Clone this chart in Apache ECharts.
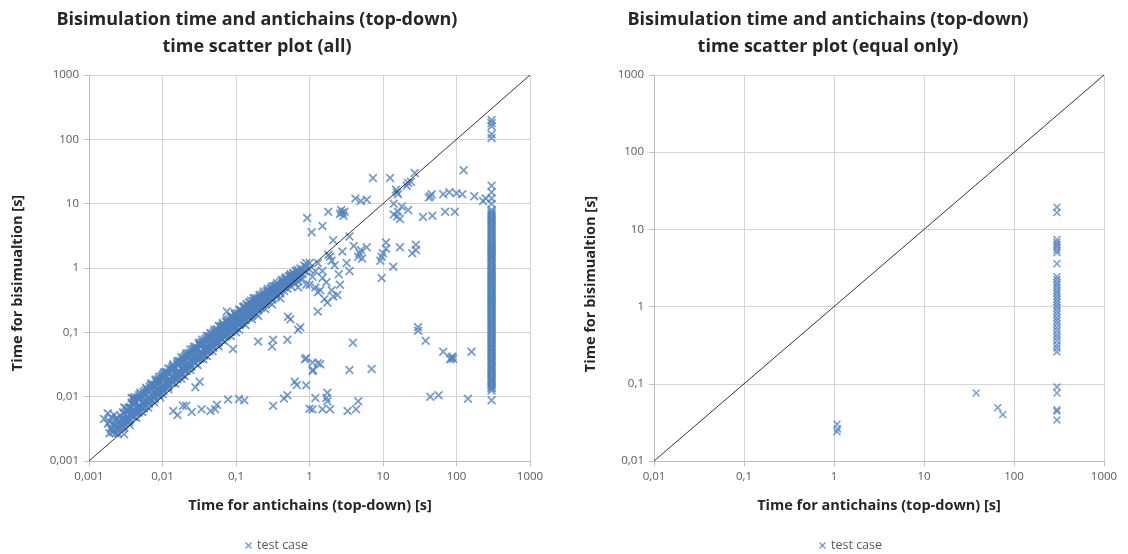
<!DOCTYPE html>
<html>
<head>
<meta charset="utf-8">
<script src="https://cdn.jsdelivr.net/npm/echarts@6/dist/echarts.min.js"></script>
<style>
html,body{margin:0;padding:0;background:#fff;}
#chart{width:1128px;height:554px;}
</style>
</head>
<body>
<div id="chart"></div>
<script>
// ---- Data (seconds) ----
const leftTickLabels = ['0,001','0,01','0,1','1','10','100','1000'];
const rightTickLabels = ['0,01','0,1','1','10','100','1000'];

const bandPoints = [
[0.0016,0.0045],[0.0018,0.0055],[0.0018,0.0038],[0.002,0.0048],[0.002,0.0033],[0.002,0.0031],
[0.0022,0.0035],[0.0022,0.0029],[0.0022,0.0052],[0.0025,0.0034],[0.0025,0.0042],[0.0025,0.0027],
[0.0028,0.0037],[0.0028,0.0045],[0.003,0.0039],[0.003,0.0055],[0.003,0.0033],[0.003,0.0026],
[0.0033,0.0048],[0.0033,0.006],[0.0033,0.0041],[0.0036,0.0052],[0.0036,0.0068],[0.0036,0.0044],[0.0036,0.0036],
[0.004,0.0058],[0.004,0.0075],[0.004,0.0049],[0.004,0.0095],[0.0044,0.0064],[0.0044,0.0082],[0.0044,0.0055],[0.0044,0.0047],
[0.0048,0.0072],[0.0048,0.009],[0.0048,0.006],[0.0048,0.0105],[0.0053,0.0078],[0.0053,0.01],[0.0053,0.0066],[0.0053,0.0058],
[0.0058,0.0086],[0.0058,0.011],[0.0058,0.0072],[0.0058,0.0125],[0.0064,0.0094],[0.0064,0.012],[0.0064,0.008],[0.0064,0.0068],
[0.007,0.0105],[0.007,0.0135],[0.007,0.0088],[0.007,0.015],[0.0077,0.0115],[0.0077,0.0145],[0.0077,0.0097],[0.0077,0.0082],
[0.0085,0.0125],[0.0085,0.016],[0.0085,0.0108],[0.0085,0.018],[0.0093,0.014],[0.0093,0.0175],[0.0093,0.0118],[0.0093,0.0098],
[0.01,0.015],[0.01,0.019],[0.01,0.0128],[0.01,0.022],[0.01,0.011],[0.011,0.0165],[0.011,0.021],[0.011,0.014],[0.011,0.024],
[0.012,0.018],[0.012,0.023],[0.012,0.0155],[0.012,0.013],[0.0135,0.02],[0.0135,0.026],[0.0135,0.017],[0.0135,0.029],
[0.015,0.022],[0.015,0.028],[0.015,0.019],[0.015,0.016],[0.0165,0.025],[0.0165,0.031],[0.0165,0.021],[0.0165,0.035],
[0.018,0.027],[0.018,0.034],[0.018,0.023],[0.018,0.019],[0.02,0.03],[0.02,0.038],[0.02,0.025],[0.02,0.042],[0.02,0.021],
[0.022,0.033],[0.022,0.041],[0.022,0.028],[0.022,0.046],[0.024,0.036],[0.024,0.045],[0.024,0.03],[0.024,0.026],
[0.027,0.04],[0.027,0.05],[0.027,0.034],[0.027,0.056],[0.03,0.044],[0.03,0.055],[0.03,0.037],[0.03,0.031],
[0.033,0.048],[0.033,0.06],[0.033,0.041],[0.033,0.068],[0.036,0.053],[0.036,0.066],[0.036,0.045],[0.036,0.038],
[0.04,0.058],[0.04,0.072],[0.04,0.05],[0.04,0.08],[0.04,0.043],[0.044,0.064],[0.044,0.078],[0.044,0.055],[0.044,0.088],
[0.048,0.07],[0.048,0.085],[0.048,0.06],[0.048,0.051],[0.053,0.076],[0.053,0.093],[0.053,0.065],[0.053,0.105],
[0.058,0.083],[0.058,0.1],[0.058,0.071],[0.058,0.06],[0.064,0.09],[0.064,0.11],[0.064,0.078],[0.064,0.125],
[0.07,0.098],[0.07,0.12],[0.07,0.085],[0.07,0.072],[0.077,0.107],[0.077,0.13],[0.077,0.093],[0.077,0.145],
[0.085,0.118],[0.085,0.142],[0.085,0.102],[0.085,0.088],[0.093,0.128],[0.093,0.155],[0.093,0.11],[0.093,0.17],
[0.1,0.138],[0.1,0.168],[0.1,0.12],[0.1,0.1],[0.1,0.185],[0.11,0.15],[0.11,0.18],[0.11,0.13],[0.11,0.11],
[0.12,0.162],[0.12,0.195],[0.12,0.14],[0.12,0.215],[0.135,0.18],[0.135,0.21],[0.135,0.155],[0.135,0.13],
[0.15,0.195],[0.15,0.235],[0.15,0.17],[0.15,0.26],[0.165,0.215],[0.165,0.255],[0.165,0.185],[0.165,0.16],
[0.18,0.235],[0.18,0.28],[0.18,0.2],[0.18,0.31],[0.2,0.255],[0.2,0.3],[0.2,0.22],[0.2,0.18],
[0.22,0.28],[0.22,0.33],[0.22,0.24],[0.22,0.36],[0.25,0.31],[0.25,0.36],[0.25,0.27],[0.25,0.23],
[0.28,0.34],[0.28,0.4],[0.28,0.3],[0.28,0.44],[0.31,0.37],[0.31,0.43],[0.31,0.32],[0.31,0.27],
[0.35,0.41],[0.35,0.48],[0.35,0.36],[0.35,0.52],[0.4,0.46],[0.4,0.53],[0.4,0.4],[0.4,0.34],
[0.45,0.5],[0.45,0.58],[0.45,0.44],[0.45,0.62],[0.5,0.55],[0.5,0.64],[0.5,0.48],
[0.56,0.6],[0.56,0.7],[0.56,0.52],[0.56,0.78],[0.63,0.66],[0.63,0.76],[0.63,0.58],
[0.7,0.72],[0.7,0.85],[0.7,0.62],[0.7,0.5],[0.8,0.8],[0.8,0.95],[0.8,0.68],[0.9,0.88],[0.9,1.05],[0.9,0.55],[1.0,0.95],[1.0,1.2]
];

const bandPoints2 = [
[0.0019,0.0027],[0.0019,0.0041],[0.0021,0.0028],[0.0021,0.0038],[0.0024,0.0031],[0.0024,0.0046],[0.0027,0.0033],[0.0027,0.005],
[0.0032,0.0044],[0.0032,0.0066],[0.0034,0.0046],[0.0034,0.0058],[0.0038,0.0056],[0.0038,0.0081],[0.0042,0.006],[0.0042,0.0088],
[0.0046,0.0068],[0.0046,0.0098],[0.005,0.0072],[0.005,0.0108],[0.0055,0.008],[0.0055,0.0118],[0.0061,0.0088],[0.0061,0.013],
[0.0067,0.0096],[0.0067,0.0142],[0.0073,0.0105],[0.0073,0.0158],[0.0081,0.0118],[0.0081,0.0172],[0.0089,0.013],[0.0089,0.019],
[0.0097,0.0142],[0.0097,0.0205],[0.0105,0.0155],[0.0105,0.0225],[0.0115,0.0168],[0.0115,0.0245],[0.0128,0.0185],[0.0128,0.027],
[0.014,0.0205],[0.014,0.03],[0.0158,0.0228],[0.0158,0.033],[0.017,0.0245],[0.017,0.036],[0.019,0.0275],[0.019,0.04],
[0.021,0.03],[0.021,0.044],[0.023,0.033],[0.023,0.048],[0.026,0.037],[0.026,0.054],[0.0285,0.041],[0.0285,0.059],
[0.0315,0.045],[0.0315,0.065],[0.0345,0.049],[0.0345,0.071],[0.038,0.054],[0.038,0.078],[0.042,0.059],[0.042,0.086],
[0.046,0.065],[0.046,0.094],[0.05,0.07],[0.05,0.102],[0.055,0.077],[0.055,0.112],[0.061,0.085],[0.061,0.123],
[0.067,0.093],[0.067,0.134],[0.073,0.101],[0.073,0.146],[0.081,0.112],[0.081,0.16],[0.089,0.122],[0.089,0.175],
[0.097,0.133],[0.097,0.19],[0.105,0.143],[0.105,0.2],[0.115,0.156],[0.115,0.218],[0.128,0.172],[0.128,0.24],
[0.142,0.19],[0.142,0.262],[0.157,0.208],[0.157,0.285],[0.172,0.226],[0.172,0.31],[0.19,0.248],[0.19,0.335],
[0.21,0.272],[0.21,0.365],[0.235,0.3],[0.235,0.4],[0.265,0.335],[0.265,0.44],[0.295,0.37],[0.295,0.48],
[0.33,0.41],[0.33,0.52],[0.375,0.46],[0.375,0.57],[0.425,0.51],[0.425,0.63],[0.475,0.56],[0.475,0.69],
[0.53,0.62],[0.53,0.75],[0.6,0.68],[0.6,0.82],[0.67,0.75],[0.67,0.9],[0.75,0.82],[0.75,0.98],[0.85,0.9],[0.85,1.08]
];

const bandPoints3 = [
[0.0023,0.0027],[0.0023,0.0035],[0.0023,0.0045],[0.0029,0.0034],[0.0029,0.0044],[0.0029,0.0057],
[0.0035,0.0041],[0.0035,0.0053],[0.0035,0.0068],[0.0041,0.0049],[0.0041,0.0062],[0.0041,0.008],
[0.0047,0.0056],[0.0047,0.0071],[0.0047,0.0092],[0.0056,0.0066],[0.0056,0.0084],[0.0056,0.0109],
[0.0066,0.0078],[0.0066,0.0099],[0.0066,0.0129],[0.0078,0.0092],[0.0078,0.0117],[0.0078,0.0152],
[0.009,0.0106],[0.009,0.0135],[0.009,0.0176],[0.0103,0.0122],[0.0103,0.0155],[0.0103,0.0201],
[0.012,0.0142],[0.012,0.018],[0.012,0.0234],[0.0138,0.0163],[0.0138,0.0207],[0.0138,0.0269],
[0.016,0.0189],[0.016,0.024],[0.016,0.0312],[0.0185,0.0218],[0.0185,0.0278],[0.0185,0.0361],
[0.0212,0.025],[0.0212,0.0318],[0.0212,0.0413],[0.0245,0.0289],[0.0245,0.0368],[0.0245,0.0478],
[0.028,0.033],[0.028,0.042],[0.028,0.0546],[0.0325,0.0384],[0.0325,0.0488],[0.0325,0.0634],
[0.037,0.0437],[0.037,0.0555],[0.037,0.0722],[0.043,0.0507],[0.043,0.0645],[0.043,0.0839],
[0.049,0.0578],[0.049,0.0735],[0.049,0.0956],[0.056,0.0661],[0.056,0.084],[0.056,0.109],
[0.065,0.0767],[0.065,0.0975],[0.065,0.127],[0.075,0.0885],[0.075,0.1125],[0.075,0.146],
[0.086,0.101],[0.086,0.129],[0.086,0.168],[0.099,0.117],[0.099,0.149],[0.099,0.193],
[0.114,0.135],[0.114,0.171],[0.114,0.222],[0.131,0.155],[0.131,0.197],[0.131,0.255],
[0.151,0.178],[0.151,0.227],[0.151,0.294],[0.174,0.205],[0.174,0.261],[0.174,0.339],
[0.2,0.23],[0.2,0.28],[0.2,0.34],[0.23,0.265],[0.23,0.32],[0.23,0.38],[0.265,0.3],[0.265,0.36],[0.265,0.43],
[0.305,0.345],[0.305,0.41],[0.305,0.48],[0.35,0.39],[0.35,0.46],[0.35,0.54],[0.4,0.44],[0.4,0.52],[0.4,0.6],
[0.46,0.5],[0.46,0.58],[0.46,0.67],[0.53,0.57],[0.53,0.65],[0.53,0.74],[0.61,0.64],[0.61,0.73],[0.61,0.83],
[0.7,0.73],[0.7,0.82],[0.7,0.93]
];

const bandUpperPoints = [
[0.003,0.0068],[0.004,0.0092],[0.005,0.0115],[0.006,0.0138],[0.007,0.016],[0.008,0.0185],[0.009,0.0205],[0.0105,0.024],
[0.012,0.0275],[0.014,0.032],[0.016,0.036],[0.018,0.041],[0.021,0.047],[0.024,0.054],[0.027,0.06],[0.031,0.069],
[0.035,0.077],[0.04,0.088],[0.045,0.098],[0.051,0.11],[0.058,0.125],[0.066,0.14],[0.075,0.158],[0.085,0.178],
[0.096,0.2],[0.11,0.225],[0.125,0.25],[0.14,0.275],[0.16,0.31],[0.18,0.34],[0.21,0.385],[0.24,0.43],[0.27,0.47],
[0.31,0.52],[0.36,0.58],[0.42,0.65],[0.48,0.72],[0.55,0.8],[0.65,0.9]
];

const bandMidPoints = [
[0.0026,0.0036],[0.0031,0.0043],[0.0037,0.0051],[0.0043,0.0059],[0.005,0.0069],[0.0057,0.0079],[0.0065,0.009],
[0.0075,0.0104],[0.0087,0.012],[0.01,0.0138],[0.0115,0.0159],[0.013,0.018],[0.015,0.0207],[0.0175,0.024],[0.02,0.0275],
[0.023,0.0315],[0.026,0.0355],[0.03,0.041],[0.035,0.0475],[0.04,0.054],[0.046,0.062],[0.053,0.071],[0.061,0.082],
[0.07,0.093],[0.08,0.106],[0.092,0.121],[0.105,0.137],[0.12,0.156],[0.14,0.18],[0.16,0.205],[0.185,0.235],
[0.21,0.265],[0.245,0.305],[0.28,0.345],[0.32,0.39],[0.37,0.445],[0.43,0.51]
];

const outlierPoints = [
[0.075,0.21],[0.0042,0.0098],[0.0038,0.0095],
[0.014,0.006],[0.016,0.0052],[0.019,0.0072],[0.021,0.0072],[0.025,0.0058],[0.034,0.0064],[0.045,0.006],
[0.052,0.0064],[0.055,0.0075],[0.078,0.009],[0.11,0.0092],[0.13,0.0088],[0.32,0.0072],[0.45,0.0094],
[0.5,0.0105],[0.67,0.0152],[0.63,0.017],[0.032,0.017],[0.028,0.014],[0.2,0.072],[0.32,0.077],[0.31,0.06],
[0.5,0.077],[0.091,0.055],[0.51,0.175],[0.55,0.16],[0.7,0.11],[0.75,0.12],[0.87,0.038],[1.12,0.026],
[1.2,0.0095],[1.0,0.0065],[1.1,0.0064],[1.5,0.0064],[1.9,0.0064],[3.3,0.006],[4.3,0.0064],[1.75,0.0115],
[1.75,0.0085],[1.7,0.0095],[4.6,0.0085],[1.1,0.034],[1.3,0.033],[1.4,0.032],[1.1,0.025],[0.9,0.04],[0.9,0.015],
[3.9,0.069],[3.5,0.026],[7.0,0.027],[30,0.106],[38,0.074],[66,0.05],[85,0.04],[88,0.042],[82,0.038],[90,0.039],
[160,0.05],[44,0.01],[57,0.0105],[143,0.0093],
[7.3,25],[12.5,25],[15.5,15],[16,14],[15,16.5],[22,21],[21,19],[24,22],[27,30],[125,33],[44,13],[46,14],[42,12.5],
[66,14],[80,15],[100,14.5],[120,14],[175,13],[70,7.5],[95,7.5],[35,6.2],[47,6.5],[15.5,6.3],[14,6.8],[17,5.8],
[16,7.5],[14,10],[22,8],[18,9],[4.2,12],[5,11],[6,11.5],[2.8,7.2],[2.7,8],[2.9,6.5],[3,7.5],[2.6,7],[1.8,7.5],
[0.93,6],[1.07,3.6],[1.5,4.5],[2.1,2.7],[3.5,3.1],[4,2.2],[6,2.1],[4.8,1.7],[4.6,1.5],[5,1.9],[5.2,1.4],[2.8,1.8],
[1.9,1.5],[2,1.3],[1.8,1.6],[1.3,1.2],[1.1,0.73],[9.6,1.5],[9.2,1.3],[10,1.7],[11,2],[11,2.5],[17,2.1],[25,1.7],
[28,2.3],[28,1.9],[13.8,1.05],[9.6,0.7],[2.1,0.36],[1.75,0.29],[1.3,0.21],[2.6,0.55],[0.9,1.2],[30,0.12],[250,12],[230,11],
[1.5,0.9],[1.7,0.6],[2.2,1.1],[2.5,0.8],[3.2,1.2],[3.5,0.9],[1.2,0.5],[1.4,0.45],
[1.2,0.9],[1.5,0.7],[1.0,0.55],[1.3,0.42],[2.0,0.45],[2.4,0.38],[1.6,0.33]
];

const timeoutX = 300;
const timeoutYs = [200,180,160,120,105,19,15,12,10,8,7,6.2,5.5,4.8,4.2,3.7,3.2,2.8,2.5,2.2,2.0,1.8,1.6,1.45,1.3,1.15,1.0,
0.9,0.8,0.72,0.65,0.58,0.52,0.46,0.41,0.37,0.33,0.3,0.27,0.24,0.21,0.19,0.17,0.15,0.135,0.12,0.105,0.095,0.085,0.075,
0.067,0.06,0.053,0.047,0.042,0.037,0.033,0.029,0.026,0.023,0.02,0.018,0.016,0.014,0.0125,0.0088,
7.5,6.6,5.8,5.1,4.5,3.95,3.45,3.0,2.65,2.35,2.1,1.9,1.7,1.52,1.38,1.22,1.08,0.95,0.85,0.76,0.68,0.61,0.55,0.49,0.435,
0.39,0.35,0.315,0.285,0.255,0.225,0.2,0.18,0.16,0.143,0.127,0.112,0.1,0.09,0.08,0.071,0.063,0.056,0.05,0.044,0.039,
0.035,0.031,0.0275,0.0245,0.0215,0.019,0.017,0.015,0.0135];

const equalPoints = [[1.08,0.03],[1.1,0.026],[1.08,0.024],[38,0.076],[66,0.049],[75,0.04]];
const equalTimeoutYs = [19.4,16.5,7.4,6.8,6.3,5.9,5.4,5.0,3.6,2.44,2.25,2.05,1.9,1.75,1.6,1.48,1.36,1.25,1.15,1.05,0.97,
0.88,0.8,0.72,0.66,0.6,0.54,0.49,0.44,0.4,0.36,0.32,0.29,0.26,0.091,0.076,0.046,0.044,0.034];

// ---- Build ----
const allData = bandPoints.concat(bandPoints2, bandPoints3, bandUpperPoints, bandMidPoints, outlierPoints,
  timeoutYs.map(y => [timeoutX, y]));
const equalData = equalPoints.concat(equalTimeoutYs.map(y => [timeoutX, y]));

const XSYM = 'path://M0,1.4L1.4,0L5,3.6L8.6,0L10,1.4L6.4,5L10,8.6L8.6,10L5,6.4L1.4,10L0,8.6L3.6,5Z';
const BLUE = '#4F81BD';
const FONT = '"Open Sans", sans-serif';

function labelFmt(labels, minExp) {
  return function (v) {
    const e = Math.round(Math.log10(v));
    return labels[e - minExp] || '';
  };
}

function makeAxis(gi, min, max, labels, minExp) {
  return {
    type: 'log', logBase: 10, gridIndex: gi, min: min, max: max, splitNumber: 6,
    axisLine: { show: true, lineStyle: { color: '#bfbfbf', width: 1 } },
    axisTick: { show: true, length: 5, lineStyle: { color: '#bfbfbf' } },
    minorTick: { show: false },
    splitLine: { show: true, lineStyle: { color: '#d4d4d4', width: 1 } },
    axisLabel: { color: '#595959', fontFamily: FONT, fontSize: 11.5, formatter: labelFmt(labels, minExp), margin: 10 }
  };
}

const chart = echarts.init(document.getElementById('chart'), null, { renderer: 'canvas' });
const titleStyle = { fontFamily: FONT, fontSize: 18, fontWeight: 'bold', fill: '#262626', textAlign: 'center', textVerticalAlign: 'middle' };
const axisTitleStyle = { fontFamily: FONT, fontSize: 14.5, fontWeight: 'bold', fill: '#262626', textAlign: 'center', textVerticalAlign: 'middle' };

chart.setOption({
  backgroundColor: '#ffffff',
  animation: false,
  grid: [
    { left: 89, top: 75, width: 441, height: 386 },
    { left: 654, top: 75, width: 450, height: 386 }
  ],
  xAxis: [ makeAxis(0, 0.001, 1000, leftTickLabels, -3), makeAxis(1, 0.01, 1000, rightTickLabels, -2) ],
  yAxis: [ makeAxis(0, 0.001, 1000, leftTickLabels, -3), makeAxis(1, 0.01, 1000, rightTickLabels, -2) ],
  legend: [
    { data: [{ name: 'test case', icon: XSYM }], left: 240, top: 534, itemWidth: 7, itemHeight: 7, itemGap: 4,
      textStyle: { fontFamily: FONT, fontSize: 12.5, color: '#595959' } },
    { data: [{ name: 'test case', icon: XSYM }], left: 814, top: 534, itemWidth: 7, itemHeight: 7, itemGap: 4,
      textStyle: { fontFamily: FONT, fontSize: 12.5, color: '#595959' } }
  ],
  graphic: [
    { type: 'text', x: 257, y: 20, style: Object.assign({ text: 'Bisimulation time and antichains (top-down)' }, titleStyle) },
    { type: 'text', x: 257, y: 47, style: Object.assign({ text: 'time scatter plot (all)' }, titleStyle) },
    { type: 'text', x: 828, y: 20, style: Object.assign({ text: 'Bisimulation time and antichains (top-down)' }, titleStyle) },
    { type: 'text', x: 828, y: 47, style: Object.assign({ text: 'time scatter plot (equal only)' }, titleStyle) },
    { type: 'text', x: 310, y: 506, style: Object.assign({ text: 'Time for antichains (top-down) [s]' }, axisTitleStyle) },
    { type: 'text', x: 879, y: 506, style: Object.assign({ text: 'Time for antichains (top-down) [s]' }, axisTitleStyle) },
    { type: 'text', x: 18, y: 283, rotation: Math.PI / 2, style: Object.assign({ text: 'Time for bisimualtion [s]' }, axisTitleStyle) },
    { type: 'text', x: 591, y: 284, rotation: Math.PI / 2, style: Object.assign({ text: 'Time for bisimualtion [s]' }, axisTitleStyle) }
  ],
  series: [
    { name: 'test case', type: 'scatter', xAxisIndex: 0, yAxisIndex: 0, data: allData,
      symbol: XSYM, symbolSize: 9, itemStyle: { color: BLUE, opacity: 0.78 }, z: 2 },
    { type: 'line', xAxisIndex: 0, yAxisIndex: 0, data: [[0.001, 0.001], [1000, 1000]], symbol: 'none', silent: true,
      lineStyle: { color: '#000000', width: 0.8 }, z: 3 },
    { name: 'test case', type: 'scatter', xAxisIndex: 1, yAxisIndex: 1, data: equalData,
      symbol: XSYM, symbolSize: 8, itemStyle: { color: BLUE, opacity: 0.75 }, z: 2 },
    { type: 'line', xAxisIndex: 1, yAxisIndex: 1, data: [[0.01, 0.01], [1000, 1000]], symbol: 'none', silent: true,
      lineStyle: { color: '#000000', width: 0.8 }, z: 3 }
  ]
});
</script>
</body>
</html>
